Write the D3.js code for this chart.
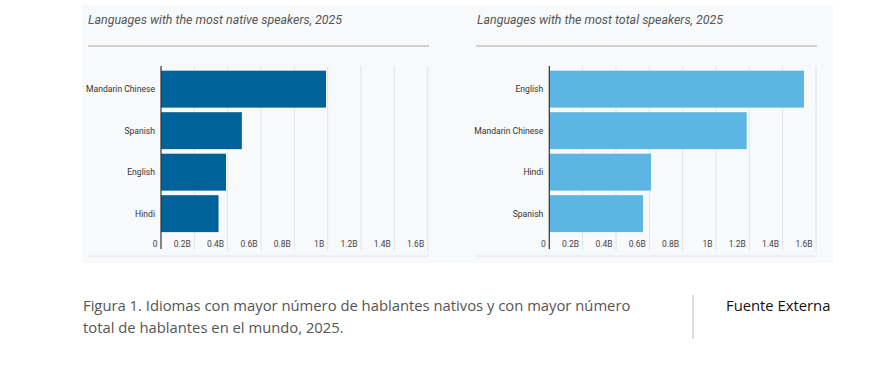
<!DOCTYPE html>
<html><head><meta charset="utf-8">
<script src="https://cdn.jsdelivr.net/npm/d3@7"></script>
<style>
body{margin:0;background:#fff;}
svg{display:block;}
</style></head>
<body>
<svg id="c" width="872" height="365"></svg>
<script>
const nativeLangs = ["Mandarin Chinese","Spanish","English","Hindi"];
const nativeValues = [0.99, 0.485, 0.39, 0.345];
const totalLangs = ["English","Mandarin Chinese","Hindi","Spanish"];
const totalValues = [1.528, 1.184, 0.61, 0.562];
const tickValues = [0,0.2,0.4,0.6,0.8,1,1.2,1.4,1.6];
const tickLabels = ["0","0.2B","0.4B","0.6B","0.8B","1B","1.2B","1.4B","1.6B"];
const titles = ["Languages with the most native speakers, 2025","Languages with the most total speakers, 2025"];
const colors = ["#01629a","#5db5e3"];
const caption = ["Figura 1. Idiomas con mayor número de hablantes nativos y con mayor número","total de hablantes en el mundo, 2025."];
const source = "Fuente Externa";

const svg = d3.select("#c");
svg.append("rect").attr("x",82).attr("y",5).attr("width",751).attr("height",258).attr("fill","#f8f9fa");

const panels = [
  {langs:nativeLangs, vals:nativeValues, x0:161, x1:427.7, lineX0:88, lineX1:429, titleX:88, color:colors[0], title:titles[0]},
  {langs:totalLangs, vals:totalValues, x0:549.3, x1:816, lineX0:476, lineX1:817, titleX:477, color:colors[1], title:titles[1]}
];

panels.forEach(p=>{
  const g = svg.append("g");
  g.append("text").attr("x",p.titleX).attr("y",24).attr("font-family","Roboto").attr("font-style","italic")
    .attr("font-size",12.4).attr("fill","#555").text(p.title);
  g.append("line").attr("x1",p.lineX0).attr("x2",p.lineX1).attr("y1",46).attr("y2",46).attr("stroke","#a8a8a8").attr("stroke-width",1.2);
  g.append("line").attr("x1",p.lineX0).attr("x2",p.lineX1).attr("y1",256).attr("y2",256).attr("stroke","#e3e4e6").attr("stroke-width",1);

  const x = d3.scaleLinear().domain([0,1.6]).range([p.x0,p.x1]);
  const y = d3.scaleBand().domain(p.langs).range([68.4,234.4]).paddingInner(0.11).paddingOuter(0.055);

  g.selectAll(".grid").data(tickValues.slice(1)).enter().append("line")
    .attr("x1",d=>x(d)).attr("x2",d=>x(d)).attr("y1",66).attr("y2",251)
    .attr("stroke","#e2e3e5").attr("stroke-width",1);

  g.selectAll(".bar").data(p.vals).enter().append("rect")
    .attr("x",x(0)).attr("y",(d,i)=>y(p.langs[i])).attr("width",d=>x(d)-x(0)).attr("height",y.bandwidth())
    .attr("fill",p.color);

  g.append("line").attr("x1",x(0)).attr("x2",x(0)).attr("y1",66).attr("y2",249).attr("stroke","#333").attr("stroke-width",1.2);

  g.selectAll(".tl").data(tickValues).enter().append("text")
    .attr("x",d=>x(d)-3.5).attr("y",247).attr("text-anchor","end")
    .attr("font-family","Roboto").attr("font-size",8.5).attr("fill","#444")
    .text((d,i)=>tickLabels[i]);

  g.selectAll(".yl").data(p.langs).enter().append("text")
    .attr("x",x(0)-6).attr("y",d=>y(d)+y.bandwidth()/2+3).attr("text-anchor","end")
    .attr("font-family","Roboto").attr("font-size",8.6).attr("fill","#333")
    .text(d=>d);
});

const capFont = "'Open Sans'";
const caps = svg.selectAll(".cap").data(caption).enter().append("text")
  .attr("x",83).attr("y",(d,i)=>311+i*22)
  .attr("font-family",capFont).attr("font-size",14).attr("fill","#555")
  .text(d=>d);
const w0 = caps.nodes()[0].getComputedTextLength();
const capSize = 14*548/w0;
caps.attr("font-size",capSize);
svg.append("line").attr("x1",693).attr("x2",693).attr("y1",295).attr("y2",339).attr("stroke","#bbb").attr("stroke-width",1);
svg.append("text").attr("x",726).attr("y",311).attr("font-family",capFont).attr("font-size",capSize).attr("fill","#111").text(source);
</script>
</body></html>
